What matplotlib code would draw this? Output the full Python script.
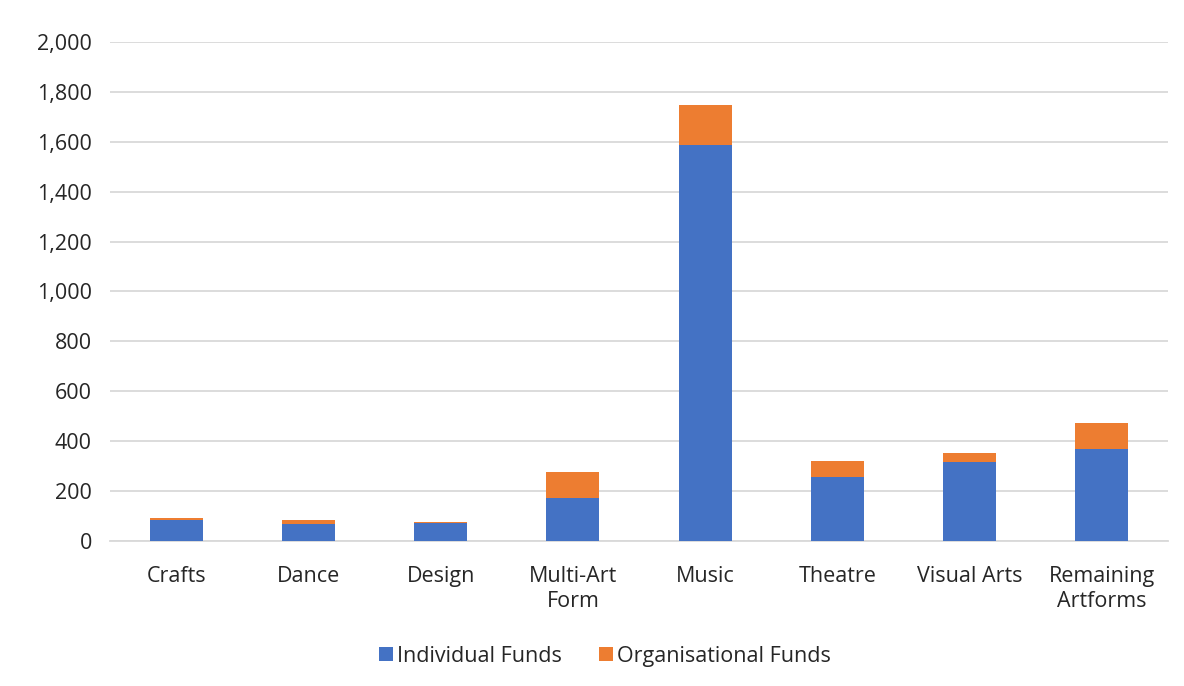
import matplotlib
matplotlib.use("Agg")
import matplotlib.pyplot as plt
import numpy as np

categories = ["Crafts", "Dance", "Design", "Multi-Art\nForm", "Music",
              "Theatre", "Visual Arts", "Remaining\nArtforms"]
individual_funds = [85, 68, 72, 172, 1589, 257, 315, 370]
organisational_funds = [7, 15, 4, 104, 158, 65, 39, 102]
y_ticks = [0, 200, 400, 600, 800, 1000, 1200, 1400, 1600, 1800, 2000]

plt.rcParams["font.family"] = ["Open Sans", "DejaVu Sans"]
text_color = "#262626"
fs = 15.5

fig = plt.figure(figsize=(11.84, 6.86), dpi=100)
ax = fig.add_axes([0.0929, 0.2114, 0.8936, 0.7274])

x = np.arange(len(categories))
bw = 0.4
ax.bar(x, individual_funds, width=bw, color="#4472C4", label="Individual Funds", zorder=3)
ax.bar(x, organisational_funds, width=bw, bottom=individual_funds,
       color="#ED7D31", label="Organisational Funds", zorder=3)

ax.set_xlim(-0.5, len(categories) - 0.5)
ax.set_ylim(0, 2000)
ax.set_yticks(y_ticks)
ax.set_yticklabels([f"{v:,}" for v in y_ticks])
ax.set_xticks(x)
ax.set_xticklabels(categories, linespacing=1.25)

ax.grid(axis="y", color="#D9D9D9", linewidth=1.3, zorder=0)
for s in ["top", "right", "left"]:
    ax.spines[s].set_visible(False)
ax.spines["bottom"].set_color("#D9D9D9")
ax.spines["bottom"].set_linewidth(1.3)
ax.tick_params(axis="both", length=0, labelsize=fs, colors=text_color)
ax.tick_params(axis="y", pad=13)
ax.tick_params(axis="x", pad=18)

leg = ax.legend(loc="center", bbox_to_anchor=(0.468, -0.231), ncol=2,
                frameon=False, fontsize=fs, handlelength=0.65, handleheight=0.65,
                handletextpad=0.2, columnspacing=1.7)
for t in leg.get_texts():
    t.set_color(text_color)

fig.savefig("out.png", dpi=100, facecolor="white")
